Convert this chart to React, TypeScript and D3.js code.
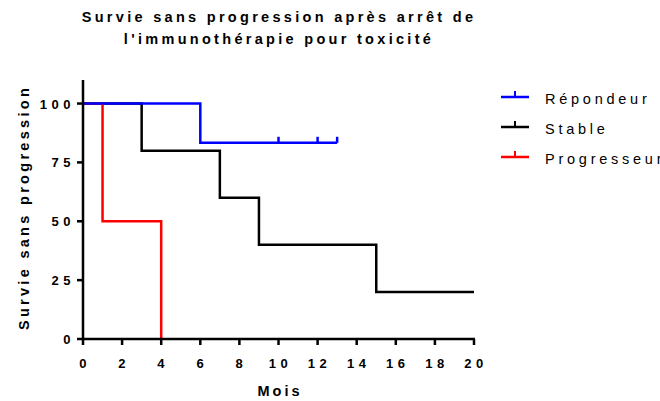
import * as d3 from "d3";

const width = 660;
const height = 401;

// Kaplan-Meier steps
const repondeurTimes = [0, 6, 13];
const repondeurSurvie = [100, 83.33, 83.33];
const repondeurCensures = [10, 12, 13];

const stableTimes = [0, 3, 7, 9, 15, 20];
const stableSurvie = [100, 80, 60, 40, 20, 20];

const progresseurTimes = [0, 1, 4, 4];
const progresseurSurvie = [100, 50, 0, 0];

const xTicks = [0, 2, 4, 6, 8, 10, 12, 14, 16, 18, 20];
const yTicks = [0, 25, 50, 75, 100];

const seriesNames = ["Répondeur", "Stable", "Progresseur"];
const seriesColors = ["#0000ff", "#000000", "#ff0000"];

const font = "Arial, 'Liberation Sans', sans-serif";

export default function App() {
  const x = d3.scaleLinear().domain([0, 20]).range([83, 474]);
  const y = d3.scaleLinear().domain([0, 110]).range([339, 80]);

  const step = d3
    .line<[number, number]>()
    .x((d) => x(d[0]))
    .y((d) => y(d[1]))
    .curve(d3.curveStepAfter);

  const zip = (t: number[], s: number[]) => t.map((v, i) => [v, s[i]] as [number, number]);

  const series = [
    { pts: zip(stableTimes, stableSurvie), color: seriesColors[1] },
    { pts: zip(progresseurTimes, progresseurSurvie), color: seriesColors[2] },
    { pts: zip(repondeurTimes, repondeurSurvie), color: seriesColors[0] },
  ];

  return (
    <svg
      width={width}
      height={height}
      style={{ position: "absolute", left: 0, top: 0, background: "#fff" }}
      fontFamily={font}
    >
      {/* title */}
      <text x={279} y={22} textAnchor="middle" fontSize={14.5} fontWeight="bold" letterSpacing={3.3}>
        Survie sans progression après arrêt de
      </text>
      <text x={279} y={44} textAnchor="middle" fontSize={14.5} fontWeight="bold" letterSpacing={3.3}>
        l'immunothérapie pour toxicité
      </text>

      {/* series */}
      {series.map((s, i) => (
        <path key={i} d={step(s.pts) ?? undefined} fill="none" stroke={s.color} strokeWidth={2.5} />
      ))}
      {repondeurCensures.map((t, i) => (
        <line
          key={i}
          x1={x(t)}
          x2={x(t)}
          y1={y(83.33)}
          y2={y(83.33) - 6}
          stroke={seriesColors[0]}
          strokeWidth={2.5}
        />
      ))}

      {/* axes */}
      <line x1={x(0)} x2={x(0)} y1={y(0) + 1} y2={y(110)} stroke="#000" strokeWidth={2.5} />
      <line x1={x(0) - 1} x2={x(20) + 1} y1={y(0)} y2={y(0)} stroke="#000" strokeWidth={2.5} />
      {xTicks.map((t) => (
        <g key={t}>
          <line x1={x(t)} x2={x(t)} y1={y(0)} y2={y(0) + 6} stroke="#000" strokeWidth={2.5} />
          <text x={x(t) + 2} y={368} textAnchor="middle" fontSize={13} fontWeight="bold" letterSpacing={4.5}>
            {t}
          </text>
        </g>
      ))}
      {yTicks.map((t) => (
        <g key={t}>
          <line x1={x(0) - 6} x2={x(0)} y1={y(t)} y2={y(t)} stroke="#000" strokeWidth={2.5} />
          <text x={75} y={y(t) + 5} textAnchor="end" fontSize={13} fontWeight="bold" letterSpacing={4.5}>
            {t}
          </text>
        </g>
      ))}
      <text x={280} y={396} textAnchor="middle" fontSize={14.5} fontWeight="bold" letterSpacing={3}>
        Mois
      </text>
      <text
        transform={`translate(29, ${(y(0) + y(110)) / 2 - 2}) rotate(-90)`}
        textAnchor="middle"
        fontSize={14.5}
        fontWeight="bold"
        letterSpacing={3.3}
      >
        Survie sans progression
      </text>

      {/* legend */}
      {seriesNames.map((name, i) => {
        const ly = 97 + i * 30;
        return (
          <g key={name}>
            <line x1={501} x2={529} y1={ly} y2={ly} stroke={seriesColors[i]} strokeWidth={2.5} />
            <line x1={515} x2={515} y1={ly} y2={ly - 6} stroke={seriesColors[i]} strokeWidth={2} />
            <text x={545} y={ly + 7} fontSize={14.5} letterSpacing={3.75}>
              {name}
            </text>
          </g>
        );
      })}
    </svg>
  );
}
